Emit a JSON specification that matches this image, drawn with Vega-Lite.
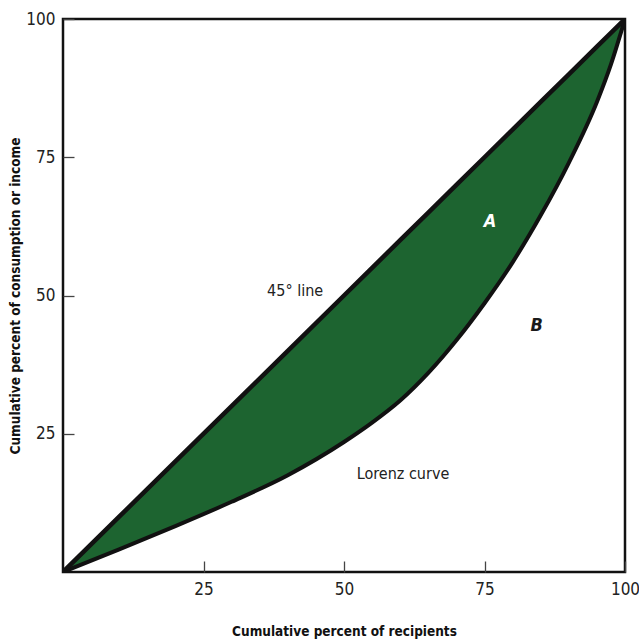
{
  "$schema": "https://vega.github.io/schema/vega-lite/v6.json",
  "autosize": "none",
  "width": 562,
  "height": 553,
  "padding": {"left": 63, "top": 19, "right": 14, "bottom": 71},
  "background": "white",
  "config": {
    "view": {"stroke": "#111111", "strokeWidth": 2.5},
    "font": "DejaVu Sans Condensed, Roboto, sans-serif",
    "axis": {
      "domain": false,
      "grid": false,
      "tickColor": "#444444",
      "tickSize": -11,
      "tickWidth": 1.3,
      "labelFont": "DejaVu Sans Condensed, Roboto, sans-serif",
      "labelFontSize": 17,
      "labelColor": "#222222",
      "titleFont": "DejaVu Sans Condensed, Roboto, sans-serif",
      "titleFontSize": 13.5,
      "titleFontWeight": "bold",
      "titleColor": "#111111"
    }
  },
  "datasets": {
    "lorenz": [
      {"x": 0, "y": 0, "diag": 0},
      {"x": 10, "y": 4.1, "diag": 10},
      {"x": 20, "y": 8.3, "diag": 20},
      {"x": 30, "y": 12.7, "diag": 30},
      {"x": 40, "y": 17.5, "diag": 40},
      {"x": 50, "y": 23.5, "diag": 50},
      {"x": 55, "y": 27, "diag": 55},
      {"x": 60, "y": 31, "diag": 60},
      {"x": 65, "y": 36, "diag": 65},
      {"x": 70, "y": 41.9, "diag": 70},
      {"x": 75, "y": 48.6, "diag": 75},
      {"x": 80, "y": 56, "diag": 80},
      {"x": 85, "y": 64.5, "diag": 85},
      {"x": 90, "y": 74, "diag": 90},
      {"x": 95, "y": 85, "diag": 95},
      {"x": 97.5, "y": 91.8, "diag": 97.5},
      {"x": 100, "y": 100, "diag": 100}
    ],
    "labels": [
      {"x": 41.3, "y": 50.8, "text": "45° line"},
      {"x": 60.5, "y": 17.7, "text": "Lorenz curve"}
    ],
    "letters": [
      {"x": 76, "y": 63.3, "text": "A", "kind": "A"},
      {"x": 84.3, "y": 44.5, "text": "B", "kind": "B"}
    ]
  },
  "layer": [
    {
      "data": {"name": "lorenz"},
      "mark": {"type": "area", "color": "#1d6430", "interpolate": "monotone"},
      "encoding": {
        "x": {
          "field": "x", "type": "quantitative",
          "scale": {"domain": [0, 100], "nice": false},
          "axis": {"values": [25, 50, 75, 100], "labelPadding": 20, "title": "Cumulative percent of recipients", "titlePadding": 27, "labelFlush": false}
        },
        "y": {
          "field": "y", "type": "quantitative",
          "scale": {"domain": [0, 100], "nice": false},
          "axis": {"values": [25, 50, 75, 100], "labelPadding": 19, "title": "Cumulative percent of consumption or income", "titlePadding": 3, "labelFlush": false}
        },
        "y2": {"field": "diag"}
      }
    },
    {
      "data": {"name": "lorenz"},
      "mark": {"type": "line", "color": "#111111", "strokeWidth": 4, "interpolate": "monotone", "clip": true},
      "encoding": {
        "x": {"field": "x", "type": "quantitative"},
        "y": {"field": "y", "type": "quantitative"}
      }
    },
    {
      "data": {"name": "lorenz"},
      "mark": {"type": "line", "color": "#111111", "strokeWidth": 4.5, "clip": true},
      "encoding": {
        "x": {"field": "x", "type": "quantitative"},
        "y": {"field": "diag", "type": "quantitative"}
      }
    },
    {
      "data": {"name": "labels"},
      "mark": {"type": "text", "font": "DejaVu Sans Condensed, Roboto, sans-serif", "fontSize": 16, "color": "#222222"},
      "encoding": {
        "x": {"field": "x", "type": "quantitative"},
        "y": {"field": "y", "type": "quantitative"},
        "text": {"field": "text"}
      }
    },
    {
      "data": {"name": "letters"},
      "mark": {"type": "text", "font": "DejaVu Sans Condensed, Roboto, sans-serif", "fontSize": 18, "fontWeight": "bold", "fontStyle": "italic"},
      "encoding": {
        "x": {"field": "x", "type": "quantitative"},
        "y": {"field": "y", "type": "quantitative"},
        "text": {"field": "text"},
        "color": {"field": "kind", "type": "nominal", "scale": {"domain": ["A", "B"], "range": ["#ffffff", "#1a1a1a"]}, "legend": null}
      }
    }
  ]
}
